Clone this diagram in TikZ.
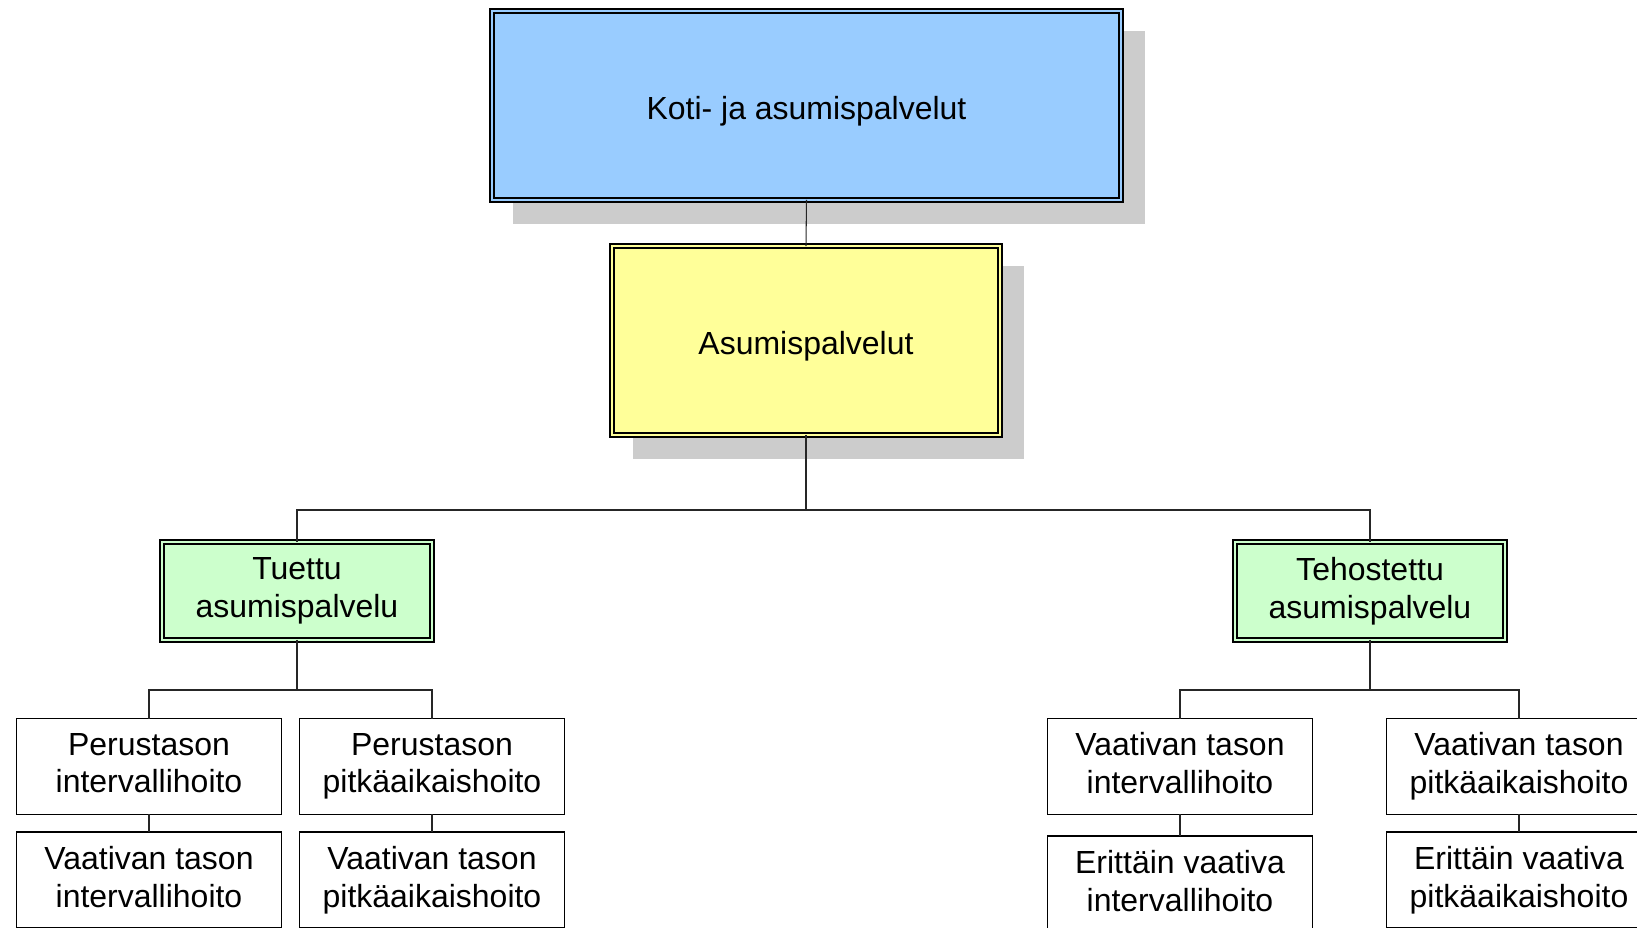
\documentclass[tikz,border=0pt]{standalone}
\usepackage{fontspec}
\setmainfont{Liberation Sans}
\usetikzlibrary{shadows}
\definecolor{kotiblue}{HTML}{99CCFF}
\definecolor{asumyellow}{HTML}{FFFF99}
\definecolor{tasogreen}{HTML}{CCFFCC}
\definecolor{varjo}{HTML}{CCCCCC}
\def\ylastrut{\rule{0pt}{21.8pt}}
\def\alastrut{\rule[-4pt]{0pt}{4pt}}

\begin{document}
\begin{tikzpicture}[x=0.02cm,y=-0.02cm,
        font=\fontsize{18.2}{21.6}\selectfont,
        every node/.style={align=center, inner sep=0pt, outer sep=0pt,
            execute at begin node=\ylastrut, execute at end node=\alastrut},
        tuplabox/.style={draw=black, double=#1, fill=#1},
        varjostus/.style={drop shadow={shadow xshift=0.45cm, shadow yshift=-0.44cm,
                fill=varjo, draw=varjo, line width=2pt, opacity=1}},
        ylabox/.style={tuplabox=#1, line width=1.1pt, double distance=1.5pt, varjostus, minimum height=3.78cm,
            execute at begin node=\rule{0pt}{14.8pt}, execute at end node=\rule[-6.2pt]{0pt}{6.2pt}},
        tasobox/.style={tuplabox=tasogreen, line width=0.9pt, double distance=1.3pt, minimum width=5.4cm, minimum height=1.96cm},
        hoitobox/.style={draw=black, line width=0.85pt, fill=white, minimum width=5.3cm, minimum height=1.92cm},
        verbi/.style={draw=black!85, line width=0.6pt}]
    \path[use as bounding box, clip] (0,0) rectangle (1637,928);

    % ylataso
    \node[ylabox=kotiblue, minimum width=12.58cm] (koti) at (806.5,105.5) {Koti- ja asumispalvelut};
    \node[ylabox=asumyellow, minimum width=7.76cm] (asum) at (806,340.5) {Asumispalvelut};

    % asumispalvelun tasot
    \node[tasobox] (tuettu) at (297,591) {Tuettu\\asumispalvelu};
    \node[tasobox] (tehost) at (1370,591) {Tehostettu\\asumispalvelu};

    % hoitomuodot
    \node[hoitobox] (perint) at (149,766.5) {Perustason\\intervallihoito};
    \node[hoitobox] (perpit) at (432,766.5) {Perustason\\pitkäaikaishoito};
    \node[hoitobox] (vaaint) at (149,880) {Vaativan tason\\intervallihoito};
    \node[hoitobox] (vaapit) at (432,880) {Vaativan tason\\pitkäaikaishoito};
    \node[hoitobox] (tvaaint) at (1180,766.5) {Vaativan tason\\intervallihoito};
    \node[hoitobox] (tvaapit) at (1519,766.5) {Vaativan tason\\pitkäaikaishoito};
    \node[hoitobox] (eriint) at (1180,884) {Erittäin vaativa\\intervallihoito};
    \node[hoitobox] (eripit) at (1519,880) {Erittäin vaativa\\pitkäaikaishoito};

    % yhteydet
    \draw[verbi] (koti.south) -- (asum.north);
    \draw[verbi] (asum.south) -- ++(0,75) -| (tuettu.north);
    \draw[verbi] (asum.south) ++(0,75) -| (tehost.north);
    \draw[verbi] (tuettu.south) -- ++(0,50) -| (perint.north);
    \draw[verbi] (tuettu.south) ++(0,50) -| (perpit.north);
    \draw[verbi] (tehost.south) -- ++(0,50) -| (tvaaint.north);
    \draw[verbi] (tehost.south) ++(0,50) -| (tvaapit.north);
    \draw[verbi] (perint.south) -- (vaaint.north);
    \draw[verbi] (perpit.south) -- (vaapit.north);
    \draw[verbi] (tvaaint.south) -- (eriint.north);
    \draw[verbi] (tvaapit.south) -- (eripit.north);
\end{tikzpicture}
\end{document}
